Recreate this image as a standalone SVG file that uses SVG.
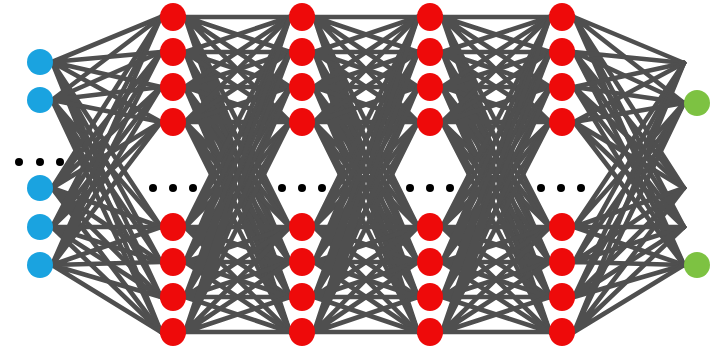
<svg xmlns="http://www.w3.org/2000/svg" width="712" height="351" viewBox="0 0 712 351">
  <style>
    .edge { fill: none; stroke: #4f4f4f; stroke-width: 4.6; stroke-linecap: round; }
    .in { fill: #1aa3e0; }
    .hid { fill: #ee0a0a; }
    .out { fill: #7dc242; }
    .dot { fill: #000; }
  </style>
  <rect width="712" height="351" fill="#fff"/>

  <!-- fully connected weights between consecutive layers -->
  <g id="connectors">
    <!-- input -> hidden 1 -->
    <path class="edge" d="M52 62 161 17M52 62 161 52M52 62 161 87M52 62 161 122M52 62 161 227M52 62 161 262M52 62 161 297M52 62 161 332"/>
    <path class="edge" d="M52 100 161 17M52 100 161 52M52 100 161 87M52 100 161 122M52 100 161 227M52 100 161 262M52 100 161 297M52 100 161 332"/>
    <path class="edge" d="M52 188 161 17M52 188 161 52M52 188 161 87M52 188 161 122M52 188 161 227M52 188 161 262M52 188 161 297M52 188 161 332"/>
    <path class="edge" d="M52 227 161 17M52 227 161 52M52 227 161 87M52 227 161 122M52 227 161 227M52 227 161 262M52 227 161 297M52 227 161 332"/>
    <path class="edge" d="M52 265 161 17M52 265 161 52M52 265 161 87M52 265 161 122M52 265 161 227M52 265 161 262M52 265 161 297M52 265 161 332"/>
    <!-- hidden 1 -> hidden 2 -->
    <path class="edge" d="M185 17 290 17M185 17 290 52M185 17 290 87M185 17 290 122M185 17 290 227M185 17 290 262M185 17 290 297M185 17 290 332"/>
    <path class="edge" d="M185 52 290 17M185 52 290 52M185 52 290 87M185 52 290 122M185 52 290 227M185 52 290 262M185 52 290 297M185 52 290 332"/>
    <path class="edge" d="M185 87 290 17M185 87 290 52M185 87 290 87M185 87 290 122M185 87 290 227M185 87 290 262M185 87 290 297M185 87 290 332"/>
    <path class="edge" d="M185 122 290 17M185 122 290 52M185 122 290 87M185 122 290 122M185 122 290 227M185 122 290 262M185 122 290 297M185 122 290 332"/>
    <path class="edge" d="M185 227 290 17M185 227 290 52M185 227 290 87M185 227 290 122M185 227 290 227M185 227 290 262M185 227 290 297M185 227 290 332"/>
    <path class="edge" d="M185 262 290 17M185 262 290 52M185 262 290 87M185 262 290 122M185 262 290 227M185 262 290 262M185 262 290 297M185 262 290 332"/>
    <path class="edge" d="M185 297 290 17M185 297 290 52M185 297 290 87M185 297 290 122M185 297 290 227M185 297 290 262M185 297 290 297M185 297 290 332"/>
    <path class="edge" d="M185 332 290 17M185 332 290 52M185 332 290 87M185 332 290 122M185 332 290 227M185 332 290 262M185 332 290 297M185 332 290 332"/>
    <!-- hidden 2 -> hidden 3 -->
    <path class="edge" d="M314 17 418 17M314 17 418 52M314 17 418 87M314 17 418 122M314 17 418 227M314 17 418 262M314 17 418 297M314 17 418 332"/>
    <path class="edge" d="M314 52 418 17M314 52 418 52M314 52 418 87M314 52 418 122M314 52 418 227M314 52 418 262M314 52 418 297M314 52 418 332"/>
    <path class="edge" d="M314 87 418 17M314 87 418 52M314 87 418 87M314 87 418 122M314 87 418 227M314 87 418 262M314 87 418 297M314 87 418 332"/>
    <path class="edge" d="M314 122 418 17M314 122 418 52M314 122 418 87M314 122 418 122M314 122 418 227M314 122 418 262M314 122 418 297M314 122 418 332"/>
    <path class="edge" d="M314 227 418 17M314 227 418 52M314 227 418 87M314 227 418 122M314 227 418 227M314 227 418 262M314 227 418 297M314 227 418 332"/>
    <path class="edge" d="M314 262 418 17M314 262 418 52M314 262 418 87M314 262 418 122M314 262 418 227M314 262 418 262M314 262 418 297M314 262 418 332"/>
    <path class="edge" d="M314 297 418 17M314 297 418 52M314 297 418 87M314 297 418 122M314 297 418 227M314 297 418 262M314 297 418 297M314 297 418 332"/>
    <path class="edge" d="M314 332 418 17M314 332 418 52M314 332 418 87M314 332 418 122M314 332 418 227M314 332 418 262M314 332 418 297M314 332 418 332"/>
    <!-- hidden 3 -> hidden 4 -->
    <path class="edge" d="M442 17 550 17M442 17 550 52M442 17 550 87M442 17 550 122M442 17 550 227M442 17 550 262M442 17 550 297M442 17 550 332"/>
    <path class="edge" d="M442 52 550 17M442 52 550 52M442 52 550 87M442 52 550 122M442 52 550 227M442 52 550 262M442 52 550 297M442 52 550 332"/>
    <path class="edge" d="M442 87 550 17M442 87 550 52M442 87 550 87M442 87 550 122M442 87 550 227M442 87 550 262M442 87 550 297M442 87 550 332"/>
    <path class="edge" d="M442 122 550 17M442 122 550 52M442 122 550 87M442 122 550 122M442 122 550 227M442 122 550 262M442 122 550 297M442 122 550 332"/>
    <path class="edge" d="M442 227 550 17M442 227 550 52M442 227 550 87M442 227 550 122M442 227 550 227M442 227 550 262M442 227 550 297M442 227 550 332"/>
    <path class="edge" d="M442 262 550 17M442 262 550 52M442 262 550 87M442 262 550 122M442 262 550 227M442 262 550 262M442 262 550 297M442 262 550 332"/>
    <path class="edge" d="M442 297 550 17M442 297 550 52M442 297 550 87M442 297 550 122M442 297 550 227M442 297 550 262M442 297 550 297M442 297 550 332"/>
    <path class="edge" d="M442 332 550 17M442 332 550 52M442 332 550 87M442 332 550 122M442 332 550 227M442 332 550 262M442 332 550 297M442 332 550 332"/>
    <!-- hidden 4 -> output -->
    <path class="edge" d="M574 17 684 63M574 17 684 103M574 17 684 188M574 17 684 227M574 17 684 265"/>
    <path class="edge" d="M574 52 684 63M574 52 684 103M574 52 684 188M574 52 684 227M574 52 684 265"/>
    <path class="edge" d="M574 87 684 63M574 87 684 103M574 87 684 188M574 87 684 227M574 87 684 265"/>
    <path class="edge" d="M574 122 684 63M574 122 684 103M574 122 684 188M574 122 684 227M574 122 684 265"/>
    <path class="edge" d="M574 227 684 63M574 227 684 103M574 227 684 188M574 227 684 227M574 227 684 265"/>
    <path class="edge" d="M574 262 684 63M574 262 684 103M574 262 684 188M574 262 684 227M574 262 684 265"/>
    <path class="edge" d="M574 297 684 63M574 297 684 103M574 297 684 188M574 297 684 227M574 297 684 265"/>
    <path class="edge" d="M574 332 684 63M574 332 684 103M574 332 684 188M574 332 684 227M574 332 684 265"/>
  </g>

  <!-- input layer -->
  <g id="input-1"><circle class="in" cx="40" cy="62" r="13"/></g>
  <g id="input-2"><circle class="in" cx="40" cy="100" r="13"/></g>
  <g id="input-3"><circle class="in" cx="40" cy="188" r="13"/></g>
  <g id="input-4"><circle class="in" cx="40" cy="227" r="13"/></g>
  <g id="input-5"><circle class="in" cx="40" cy="265" r="13"/></g>
  <g id="input-ellipsis">
    <circle class="dot" cx="19" cy="162" r="4"/>
    <circle class="dot" cx="40" cy="162" r="4"/>
    <circle class="dot" cx="60" cy="162" r="4"/>
  </g>

  <!-- hidden layer 1 -->
  <g id="h1-1"><ellipse class="hid" cx="173" cy="17" rx="13" ry="14"/></g>
  <g id="h1-2"><ellipse class="hid" cx="173" cy="52" rx="13" ry="14"/></g>
  <g id="h1-3"><ellipse class="hid" cx="173" cy="87" rx="13" ry="14"/></g>
  <g id="h1-4"><ellipse class="hid" cx="173" cy="122" rx="13" ry="14"/></g>
  <g id="h1-5"><ellipse class="hid" cx="173" cy="227" rx="13" ry="14"/></g>
  <g id="h1-6"><ellipse class="hid" cx="173" cy="262" rx="13" ry="14"/></g>
  <g id="h1-7"><ellipse class="hid" cx="173" cy="297" rx="13" ry="14"/></g>
  <g id="h1-8"><ellipse class="hid" cx="173" cy="332" rx="13" ry="14"/></g>
  <g id="h1-ellipsis">
    <circle class="dot" cx="153" cy="188" r="4"/>
    <circle class="dot" cx="173" cy="188" r="4"/>
    <circle class="dot" cx="193" cy="188" r="4"/>
  </g>

  <!-- hidden layer 2 -->
  <g id="h2-1"><ellipse class="hid" cx="302" cy="17" rx="13" ry="14"/></g>
  <g id="h2-2"><ellipse class="hid" cx="302" cy="52" rx="13" ry="14"/></g>
  <g id="h2-3"><ellipse class="hid" cx="302" cy="87" rx="13" ry="14"/></g>
  <g id="h2-4"><ellipse class="hid" cx="302" cy="122" rx="13" ry="14"/></g>
  <g id="h2-5"><ellipse class="hid" cx="302" cy="227" rx="13" ry="14"/></g>
  <g id="h2-6"><ellipse class="hid" cx="302" cy="262" rx="13" ry="14"/></g>
  <g id="h2-7"><ellipse class="hid" cx="302" cy="297" rx="13" ry="14"/></g>
  <g id="h2-8"><ellipse class="hid" cx="302" cy="332" rx="13" ry="14"/></g>
  <g id="h2-ellipsis">
    <circle class="dot" cx="282" cy="188" r="4"/>
    <circle class="dot" cx="302" cy="188" r="4"/>
    <circle class="dot" cx="322" cy="188" r="4"/>
  </g>

  <!-- hidden layer 3 -->
  <g id="h3-1"><ellipse class="hid" cx="430" cy="17" rx="13" ry="14"/></g>
  <g id="h3-2"><ellipse class="hid" cx="430" cy="52" rx="13" ry="14"/></g>
  <g id="h3-3"><ellipse class="hid" cx="430" cy="87" rx="13" ry="14"/></g>
  <g id="h3-4"><ellipse class="hid" cx="430" cy="122" rx="13" ry="14"/></g>
  <g id="h3-5"><ellipse class="hid" cx="430" cy="227" rx="13" ry="14"/></g>
  <g id="h3-6"><ellipse class="hid" cx="430" cy="262" rx="13" ry="14"/></g>
  <g id="h3-7"><ellipse class="hid" cx="430" cy="297" rx="13" ry="14"/></g>
  <g id="h3-8"><ellipse class="hid" cx="430" cy="332" rx="13" ry="14"/></g>
  <g id="h3-ellipsis">
    <circle class="dot" cx="410" cy="188" r="4"/>
    <circle class="dot" cx="430" cy="188" r="4"/>
    <circle class="dot" cx="450" cy="188" r="4"/>
  </g>

  <!-- hidden layer 4 -->
  <g id="h4-1"><ellipse class="hid" cx="562" cy="17" rx="13" ry="14"/></g>
  <g id="h4-2"><ellipse class="hid" cx="562" cy="52" rx="13" ry="14"/></g>
  <g id="h4-3"><ellipse class="hid" cx="562" cy="87" rx="13" ry="14"/></g>
  <g id="h4-4"><ellipse class="hid" cx="562" cy="122" rx="13" ry="14"/></g>
  <g id="h4-5"><ellipse class="hid" cx="562" cy="227" rx="13" ry="14"/></g>
  <g id="h4-6"><ellipse class="hid" cx="562" cy="262" rx="13" ry="14"/></g>
  <g id="h4-7"><ellipse class="hid" cx="562" cy="297" rx="13" ry="14"/></g>
  <g id="h4-8"><ellipse class="hid" cx="562" cy="332" rx="13" ry="14"/></g>
  <g id="h4-ellipsis">
    <circle class="dot" cx="541" cy="188" r="4"/>
    <circle class="dot" cx="561" cy="188" r="4"/>
    <circle class="dot" cx="581" cy="188" r="4"/>
  </g>

  <!-- output layer -->
  <g id="output-1"><circle class="out" cx="697" cy="103" r="13"/></g>
  <g id="output-2"><circle class="out" cx="697" cy="265" r="13"/></g>
</svg>
